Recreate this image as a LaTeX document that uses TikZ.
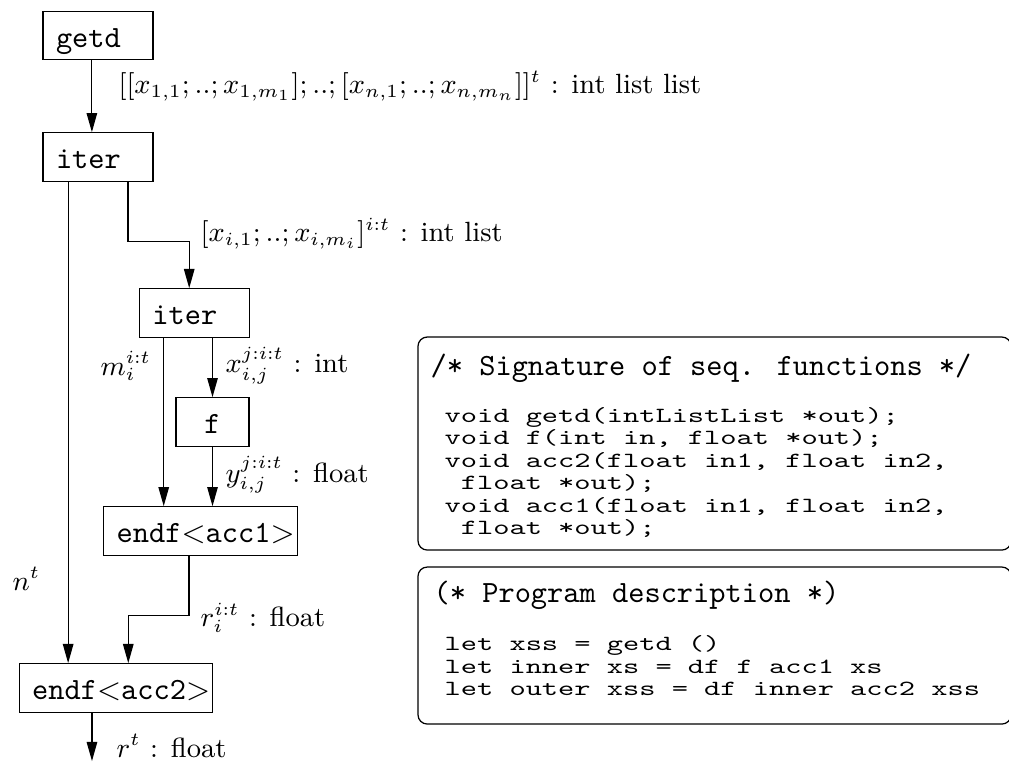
\documentclass[tikz,border=0pt]{standalone}
\usepackage{graphicx}
\usetikzlibrary{arrows.meta}

\begin{document}
\begin{tikzpicture}[
    >={Triangle[length=6.2pt,width=3.4pt]},
    blk/.style={draw, font=\ttfamily, minimum height=15.7pt, inner xsep=4.2pt,
      text width=27.2pt, align=left, text height=7.6pt, text depth=0pt},
    wideblk/.style={blk, text width=54.2pt},
    lbl/.style={anchor=base west, inner sep=0pt, font=\small},
    code/.style={anchor=base west, inner sep=0pt, font=\ttfamily\fontsize{10}{10.4}\selectfont}]
    \useasboundingbox (0,0) rectangle (11.476,-8.667);

        % Draw blocks
    \node[blk] (getd) at (1.115,-0.404) {getd};
    \node[blk] (iter) at (1.115,-1.786) {iter};
    \node[blk] (iter2) at (2.212,-3.560) {iter};
    \node[blk, text width=15.2pt, align=center] (fun) at (2.417,-4.800) {f};
    \node[wideblk] (acc1) at (2.280,-6.040) {endf$<$acc1$>$};
    \node[wideblk] (acc2) at (1.319,-7.825) {endf$<$acc2$>$};
    \coordinate (out) at (1.046,-8.656);

        % Draw connections
    \draw[->] ([xshift=-0.07cm]getd.south) -- ([xshift=-0.07cm]iter.north);
    \draw[->] ([xshift=-0.34cm]iter.south) -- ([xshift=-0.34cm]iter.south |- acc2.north);
    \draw[->] ([xshift=0.34cm]iter.south) -- ++(0,-0.68) -| ([xshift=-0.06cm]iter2.north);
    \draw[->] ([xshift=-0.35cm]iter2.south) -- ([xshift=-0.35cm]iter2.south |- acc1.north);
    \draw[->] (fun.north |- iter2.south) -- (fun.north);
    \draw[->] (fun.south) -- (fun.south |- acc1.north);
    \draw[->] ([xshift=-0.13cm]acc1.south) -- ++(0,-0.68) -| ([xshift=0.14cm]acc2.north);
    \draw[->] (acc2.south -| out) -- (out);

        % Add labels
    \node[lbl] (ltop) at (1.342,-1.069) {$[[x_{1,1};..;x_{1,m_1}];..;[x_{n,1};..;x_{n,m_n}]]^t$ : int list list};
    \node[lbl] (lrow) at (2.275,-2.752) {$[x_{i,1};..;x_{i,m_i}]^{i:t}$ : int list};
    \node[lbl] (lm) at (1.137,-4.265) {$m_i^{i:t}$};
    \node[lbl] (lx) at (2.559,-4.242) {$x_{i,j}^{j:i:t}$ : int};
    \node[lbl] (ly) at (2.559,-5.482) {$y_{i,j}^{j:i:t}$ : float};
    \node[lbl] (ln) at (0.136,-6.711) {$n^t$};
    \node[lbl] (lr) at (2.275,-7.131) {$r_i^{i:t}$ : float};
    \node[lbl] (lout) at (1.319,-8.610) {$r^t$ : float};

        % Code boxes
    \draw[rounded corners=3pt] (4.754,-3.833) rectangle (11.50,-6.256);
    \draw[rounded corners=3pt] (4.754,-6.449) rectangle (11.50,-8.235);
    \node[lbl, font=\ttfamily] (sighead) at (4.891,-4.265) {/* Signature of seq. functions */};
    \node[code] (sig) at (5.050,-4.800) {\scalebox{1}[0.7]{\begin{tabular}[t]{@{}l@{}}
      void getd(intListList *out);\\
      void f(int in, float *out);\\
      void acc2(float in1, float in2,\\
      \ float *out);\\
      void acc1(float in1, float in2,\\
      \ float *out);
    \end{tabular}}};
    \node[lbl, font=\ttfamily] (proghead) at (4.925,-6.858) {(* Program description *)};
    \node[code] (prog) at (5.050,-7.404) {\scalebox{1}[0.7]{\begin{tabular}[t]{@{}l@{}}
      let xss = getd ()\\
      let inner xs = df f acc1 xs\\
      let outer xss = df inner acc2 xss
    \end{tabular}}};
  \end{tikzpicture}
\end{document}
